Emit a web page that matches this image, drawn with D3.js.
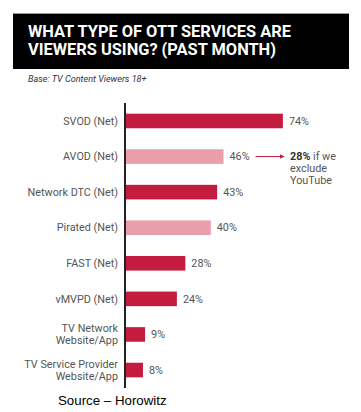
<!DOCTYPE html>
<html><head><meta charset="utf-8">
<script src="https://cdn.jsdelivr.net/npm/d3@7"></script>
<style>body{margin:0;background:#fff}svg{display:block}</style>
</head><body>
<script>
const categories = [["SVOD (Net)"],["AVOD (Net)"],["Network DTC (Net)"],["Pirated (Net)"],["FAST (Net)"],["vMVPD (Net)"],["TV Network","Website/App"],["TV Service Provider","Website/App"]];
const values = [74,46,43,40,28,24,9,8];
const highlight = [false,true,false,true,false,false,false,false];
const titleLines = ["WHAT TYPE OF OTT SERVICES ARE","VIEWERS USING? (PAST MONTH)"];
const subtitle = "Base: TV Content Viewers 18+";
const noteLines = [["28%"," if we"],["","exclude"],["","YouTube"]];
const source = "Source – Horowitz";

const W=361,H=412;
const svg=d3.select("body").append("svg").attr("width",W).attr("height",H);
svg.append("rect").attr("x",13).attr("y",13).attr("width",336).attr("height",56).attr("fill","#000");
svg.append("line").attr("x1",13).attr("x2",349).attr("y1",13.5).attr("y2",13.5).attr("stroke","#999").attr("stroke-width",1);
svg.selectAll("text.title").data(titleLines).join("text")
  .attr("x",28).attr("y",(d,i)=>37+i*18).attr("fill","#fff")
  .attr("font-family","Roboto, Arial, sans-serif").attr("font-weight","bold").attr("font-size",16.4)
  .text(d=>d);
svg.append("text").attr("x",28).attr("y",82).attr("font-family","Roboto, Arial, sans-serif")
  .attr("font-style","italic").attr("font-size",9.1).attr("fill","#333").text(subtitle);

const x=d3.scaleLinear().domain([0,100]).range([126,338]);
const y=d3.scaleBand().domain(d3.range(values.length)).range([103,388]).paddingInner(0.59).paddingOuter(0.3);
const dark="#c41c3e", light="#ea9eab";
const g=svg.append("g");
g.selectAll("rect.bar").data(values).join("rect")
  .attr("x",x(0)).attr("y",(d,i)=>y(i)).attr("width",d=>x(d)-x(0)).attr("height",y.bandwidth())
  .attr("fill",(d,i)=>highlight[i]?light:dark);
g.selectAll("text.val").data(values).join("text")
  .attr("x",d=>x(d)+6).attr("y",(d,i)=>y(i)+y.bandwidth()/2).attr("dy","0.35em")
  .attr("font-family","Roboto, Arial, sans-serif").attr("font-size",10.8).attr("fill","#555")
  .text(d=>d+"%");
const lab=g.selectAll("text.cat").data(categories).join("text")
  .attr("text-anchor","end").attr("font-family","Roboto, Arial, sans-serif").attr("font-size",10.8).attr("fill","#555")
  .attr("x",118).attr("y",(d,i)=>y(i)+y.bandwidth()/2);
lab.selectAll("tspan").data(d=>d.map((t,j)=>({t,j,n:d.length}))).join("tspan")
  .attr("x",118).attr("dy",(d)=>d.j===0?((0.35-(d.n-1)*0.55)+"em"):"1.1em").text(d=>d.t);
g.append("line").attr("x1",125).attr("x2",125).attr("y1",103).attr("y2",388).attr("stroke","#222").attr("stroke-width",2);

// annotation
const ay=y(1)+y.bandwidth()/2;
const ax0=x(values[1])+32;
svg.append("defs").append("marker").attr("id","ah").attr("viewBox","0 0 10 10").attr("refX",9).attr("refY",5)
  .attr("markerWidth",5).attr("markerHeight",5).attr("orient","auto")
  .append("path").attr("d","M0,0L10,5L0,10z").attr("fill",dark);
svg.append("line").attr("x1",ax0).attr("x2",284).attr("y1",ay).attr("y2",ay).attr("stroke",dark).attr("stroke-width",1).attr("marker-end","url(#ah)");
const nt=svg.append("text").attr("font-family","Roboto, Arial, sans-serif").attr("font-size",10.8).attr("fill","#555");
noteLines.forEach((l,i)=>{
  const line=nt.append("tspan").attr("x",290).attr("y",ay+3.5+i*12);
  if(l[0]) line.append("tspan").attr("font-weight","bold").attr("fill","#333").text(l[0]);
  nt.append("tspan").attr("x",l[0]?null:290).attr("y",l[0]?null:ay+3.5+i*12).text(l[1]);
});
svg.append("text").attr("x",58).attr("y",405).attr("font-family","Liberation Sans, Arial, sans-serif").attr("font-size",13.3).attr("fill","#000").text(source);
</script>
</body></html>
